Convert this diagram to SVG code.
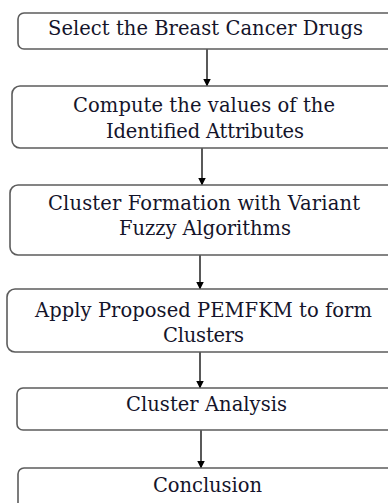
<svg xmlns="http://www.w3.org/2000/svg" width="388" height="503" viewBox="0 0 388 503">
<defs>
<marker id="ah" markerWidth="8" markerHeight="8" refX="7.5" refY="4" orient="auto" markerUnits="userSpaceOnUse">
<path d="M0,0 L8,4 L0,8 Z" fill="#000"/>
</marker>
<style>
.box{fill:#fff;stroke:#5c5c5c;stroke-width:1.6}
.t{font-family:"DejaVu Serif","Liberation Serif",serif;font-size:19.5px;fill:#14142a;text-anchor:middle}
.c{stroke:#000;stroke-width:1.3;fill:none;marker-end:url(#ah)}
</style>
</defs>
<rect width="388" height="503" fill="#fff"/>
<g id="connectors">
<line class="c" x1="207" y1="49" x2="207" y2="86"/>
<line class="c" x1="202" y1="148" x2="202" y2="185"/>
<line class="c" x1="200" y1="255" x2="200" y2="289"/>
<line class="c" x1="200" y1="352" x2="200" y2="388"/>
<line class="c" x1="201" y1="430" x2="201" y2="468"/>
</g>
<g id="n1">
<rect class="box" x="18" y="13" width="380" height="36" rx="6"/>
<text class="t" x="205.5" y="35" textLength="315" lengthAdjust="spacing">Select the Breast Cancer Drugs</text>
</g>
<g id="n2">
<rect class="box" x="12" y="86" width="386" height="62" rx="8"/>
<text class="t" x="204" y="112" textLength="262" lengthAdjust="spacing">Compute the values of the</text>
<text class="t" x="205" y="138" textLength="198" lengthAdjust="spacing">Identified Attributes</text>
</g>
<g id="n3">
<rect class="box" x="10" y="185" width="388" height="70" rx="8"/>
<text class="t" x="204" y="210" textLength="312" lengthAdjust="spacing">Cluster Formation with Variant</text>
<text class="t" x="205" y="235" textLength="172" lengthAdjust="spacing">Fuzzy Algorithms</text>
</g>
<g id="n4">
<rect class="box" x="7" y="289" width="391" height="63" rx="8"/>
<text class="t" x="203.5" y="317" textLength="337" lengthAdjust="spacing">Apply Proposed PEMFKM to form</text>
<text class="t" x="203.5" y="342" textLength="81" lengthAdjust="spacing">Clusters</text>
</g>
<g id="n5">
<rect class="box" x="17" y="388" width="381" height="42" rx="6"/>
<text class="t" x="206.5" y="411" textLength="161" lengthAdjust="spacing">Cluster Analysis</text>
</g>
<g id="n6">
<rect class="box" x="18" y="468" width="380" height="50" rx="6"/>
<text class="t" x="207.5" y="492" textLength="109" lengthAdjust="spacing">Conclusion</text>
</g>
</svg>
